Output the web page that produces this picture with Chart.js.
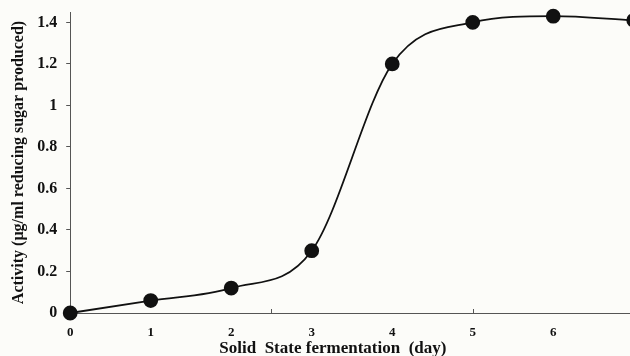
<!DOCTYPE html>
<html>
<head>
<meta charset="utf-8">
<script src="https://cdn.jsdelivr.net/npm/chart.js@4.4.1/dist/chart.umd.min.js"></script>
<style>
  html, body { margin: 0; padding: 0; background: #fcfcf9; overflow: hidden; }
  #wrap { position: absolute; left: 0; top: 0; width: 649px; height: 356px; }
</style>
</head>
<body>
<div id="wrap"><canvas id="chart"></canvas></div>
<script>
// ---------- Data ----------
const days = [0, 1, 2, 3, 4, 5, 6, 7];
const activity = [0, 0.06, 0.12, 0.30, 1.20, 1.40, 1.43, 1.41];
const xTickMarks = [2.5, 5]; // small inward tick marks on the x axis
// trailing spaces nudge the centred title a little left, as in the original
const xTitle = "Solid  State fermentation  (day)" + " ".repeat(9);
const yTitle = "Activity (µg/ml reducing sugar produced)";

const INK = "#111";
const AXIS = "#555";
const SERIF = "'Liberation Serif', 'Times New Roman', serif";

// draws the little upward tick marks seen on the x axis
const innerTicks = {
  id: "innerTicks",
  afterDraw(chart) {
    const x = chart.scales.x;
    const ctx = chart.ctx;
    ctx.save();
    ctx.strokeStyle = AXIS;
    ctx.lineWidth = 1;
    xTickMarks.forEach((v) => {
      const px = Math.round(x.getPixelForValue(v)) + 0.5;
      ctx.beginPath();
      ctx.moveTo(px, x.top);
      ctx.lineTo(px, x.top - 4);
      ctx.stroke();
    });
    ctx.restore();
  }
};

new Chart(document.getElementById("chart"), {
  type: "line",
  data: {
    datasets: [{
      data: days.map((d, i) => ({ x: d, y: activity[i] })),
      borderColor: INK,
      borderWidth: 1.8,
      backgroundColor: INK,
      pointBackgroundColor: INK,
      pointBorderColor: INK,
      pointRadius: 6.5,
      cubicInterpolationMode: "monotone",
      clip: false
    }]
  },
  options: {
    responsive: true,
    maintainAspectRatio: false,
    animation: false,
    layout: { padding: { left: 9, top: 12, right: 0, bottom: 0 } },
    plugins: { legend: { display: false }, tooltip: { enabled: false } },
    scales: {
      x: {
        type: "linear",
        min: 0,
        max: 7,
        grid: { drawOnChartArea: false, drawTicks: false },
        border: { color: AXIS, width: 1 },
        ticks: {
          stepSize: 1,
          padding: 12,
          color: INK,
          font: { family: SERIF, size: 13, weight: "bold" }
        },
        title: {
          display: true,
          text: xTitle,
          color: INK,
          padding: { top: -14, bottom: -3 },
          font: { family: SERIF, size: 17, weight: "bold" }
        }
      },
      y: {
        min: 0,
        max: 1.45,
        // the top label sits below the axis end, so no extra room is needed above it
        afterFit: (scale) => { scale.paddingTop = 0; },
        grid: { drawOnChartArea: false, drawTicks: true, tickLength: 4, color: AXIS },
        border: { color: AXIS, width: 1 },
        ticks: {
          stepSize: 0.2,
          includeBounds: false,
          padding: 9,
          color: INK,
          font: { family: SERIF, size: 16, weight: "bold" },
          callback: (v) => String(+v.toFixed(1))
        },
        title: {
          display: true,
          text: yTitle,
          color: INK,
          padding: { top: 0, bottom: 0 },
          font: { family: SERIF, size: 16, weight: "bold" }
        }
      }
    }
  },
  plugins: [innerTicks]
});
</script>
</body>
</html>
